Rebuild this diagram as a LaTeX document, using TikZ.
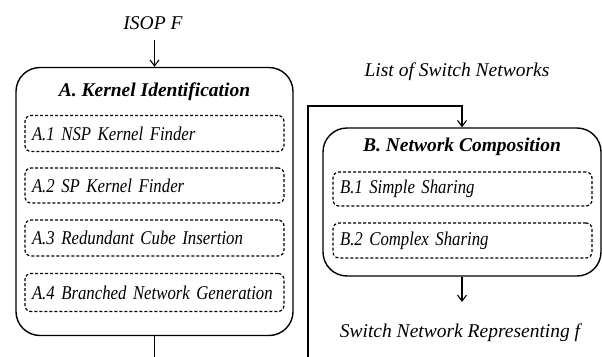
\documentclass[tikz,border=0pt]{standalone}
\usepackage{fontspec}
\setmainfont{Liberation Serif}
\newfontfamily\subfont{Liberation Serif}[FakeStretch=0.86]
\usetikzlibrary{arrows.meta}
\begin{document}
\begin{tikzpicture}[x=1pt,y=-1pt,
  outer/.style={draw,line width=1.4pt,rounded corners=24pt,inner sep=0pt},
  sub/.style={draw,dashed,line width=1.2pt,dash pattern=on 3pt off 2pt,rounded corners=6pt,
    minimum width=259pt,text width=245pt,inner xsep=7pt,align=left,font=\subfont\itshape\fontsize{19.5}{21}\selectfont},
  ttl/.style={font=\bfseries\itshape\fontsize{19.5}{21}\selectfont},
  lbl/.style={font=\itshape\fontsize{19.5}{21}\selectfont},
  arr/.style={line width=1.1pt,-{Straight Barb[length=6pt,width=9pt,line width=1.1pt]}},
  ln/.style={line width=1.1pt}]
\useasboundingbox (0,0) rectangle (602,356);
% Box A
\node[outer,minimum width=277pt,minimum height=268pt] (A) at (154.5,201.5) {};
\node[ttl] (At) at (154.5,92) {A. Kernel Identification};
\node[sub,minimum height=36pt] (A1) at (154.5,133.5) {A.1 NSP Kernel Finder};
\node[sub,minimum height=35pt] (A2) at (154.5,185.5) {A.2 SP Kernel Finder};
\node[sub,minimum height=36pt] (A3) at (154.5,238) {A.3 Redundant Cube Insertion};
\node[sub,minimum height=38pt] (A4) at (154.5,292.5) {A.4 Branched Network Generation};
% Box B
\node[outer,minimum width=278pt,minimum height=148pt] (B) at (462,202) {};
\node[ttl] (Bt) at (462,147) {B. Network Composition};
\node[sub,minimum height=34pt] (B1) at (462.5,189) {B.1 Simple Sharing};
\node[sub,minimum height=35pt] (B2) at (462.5,240.5) {B.2 Complex Sharing};
% labels
\node[lbl] (isop) at (153,23) {ISOP F};
\node[lbl] (list) at (457,72) {List of Switch Networks};
\node[lbl] (out) at (460,333) {Switch Network Representing f};
% connectors
\coordinate (inA) at (154.5,40);
\draw[arr] (inA) -- (A.north);
\coordinate (cA) at (154.5,357);
\draw[ln] (A.south) -- (cA);
\coordinate (cB) at (308,357);
\coordinate (turn) at (308,106);
\draw[arr] (cB) -- (turn) -| (B.north);
\coordinate (outB) at (462,302);
\draw[arr] (B.south) -- (outB);
\end{tikzpicture}
\end{document}
